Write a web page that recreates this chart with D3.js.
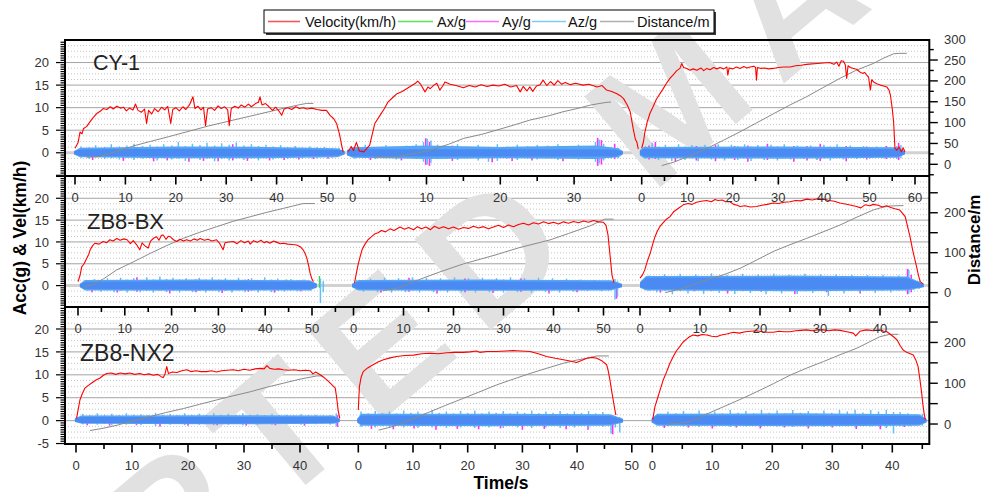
<!DOCTYPE html>
<html>
<head>
<meta charset="utf-8">
<script src="https://cdn.jsdelivr.net/npm/d3@7"></script>
<style>
  body { margin: 0; background: #fff; }
  svg { display: block; font-family: "Liberation Sans", Arial, sans-serif; }
</style>
</head>
<body>
<svg id="chart" width="986" height="492"></svg>
<script>
// ---------------- data ----------------
const panelNames = ['CY-1', 'ZB8-BX', 'ZB8-NX2'];
const seriesNames = ['Velocity(km/h)', 'Ax/g', 'Ay/g', 'Az/g', 'Distance/m'];

const leftTickLabels = [[0, 5, 10, 15, 20], [0, 5, 10, 15, 20], [-5, 0, 5, 10, 15, 20]];
const rightTickLabels = [[0, 50, 100, 150, 200, 250, 300], [0, 100, 200], [0, 100, 200]];

// velocity [t (s), km/h], one array per run
const cy1Velocity = [
  [[0,1.0],[0.6,2.2],[1,4.6],[1.4,4.2],[1.7,5.4],[2.3,5.8],[3,6.9],[3.6,7.8],[4.3,8.7],[5,9.2],[5.6,9.8],[6.3,9.6],[7,10.2],[7.6,9.7],[8.3,10.3],[9,9.9],[9.6,10.1],[10.2,9.3],[10.8,9.9],[11.5,9.5],[12,10.8],[12.5,9.4],[13.2,9.0],[13.8,9.7],[14.2,6.5],[14.6,9.4],[15.2,8.6],[15.8,9.8],[16.5,9.1],[17.2,10.1],[17.8,9.5],[18.4,10.3],[19,6.5],[19.4,9.6],[20,10.0],[20.7,9.3],[21.4,10.2],[22,9.6],[22.7,10.6],[23.4,12.4],[23.8,9.8],[24.4,10.3],[25,9.5],[25.5,10.1],[25.9,6.0],[26.3,9.7],[27,10.0],[27.7,9.4],[28.4,10.4],[29,9.8],[29.7,10.2],[30.3,9.5],[30.6,6.0],[31,9.8],[31.7,10.3],[32.4,9.9],[33,10.6],[33.7,10.1],[34.4,10.8],[35,10.2],[35.8,10.9],[36.4,11.2],[36.7,12.4],[37.1,10.6],[37.8,10.9],[38.5,10.2],[39.2,9.4],[39.8,10.1],[40.5,9.2],[41,8.3],[41.5,9.7],[42.2,10.0],[43,9.6],[43.8,10.2],[44.5,9.8],[45.3,10.0],[46,9.7],[47,9.9],[48,9.6],[49,9.4],[49.9,9.4],[50.6,8.3],[51.3,7.6],[51.9,6.5],[52.5,4.0],[52.9,1.7],[53.2,0.2]],
  [[-0.6,0.3],[-0.2,1.4],[0.1,0.5],[0.5,2.3],[0.9,0.4],[1.5,0.2],[2.3,1.7],[3.0,6.5],[3.7,8.3],[4.3,9.8],[4.8,11.3],[5.4,12.2],[6.0,13.1],[6.7,13.6],[7.3,14.2],[8.0,14.9],[8.5,15.4],[8.8,15.9],[9.2,15.2],[9.8,13.5],[10.2,14.6],[10.5,14.2],[11.0,15.0],[11.4,15.4],[11.8,13.9],[12.2,14.8],[12.5,15.7],[13.2,15.2],[14,14.9],[15,14.4],[15.8,14.9],[16.6,14.6],[17.4,15.1],[18.2,14.7],[19,15.0],[19.8,14.8],[20.6,15.2],[21.4,14.6],[22.2,14.9],[22.7,13.5],[23.1,14.7],[23.6,13.7],[24.0,14.6],[24.4,13.6],[24.9,14.8],[25.4,15.1],[25.8,16.1],[26.3,14.9],[26.8,15.8],[27.3,15.0],[27.8,16.0],[28.3,15.2],[28.8,15.6],[29.5,15.1],[30.2,15.4],[31.2,15.0],[32,15.2],[33.1,14.6],[33.8,14.9],[34.4,13.9],[35.1,13.6],[35.8,13.1],[36.3,12.6],[36.7,12.0],[37.2,10.6],[37.6,9.1],[38.0,5.4],[38.3,3.0],[38.5,2.4],[38.7,0.8]],
  [[0,1.0],[0.4,2.5],[0.7,4.6],[1.2,6.8],[1.8,8.7],[2.5,10.2],[3.2,11.8],[4.0,13.1],[4.6,14.0],[5.3,15.2],[6.2,16.5],[7,17.4],[7.7,18.2],[8.4,18.7],[8.8,19.8],[9.2,18.9],[9.9,18.7],[10.6,18.3],[11.3,18.6],[12.1,18.3],[13,18.8],[13.6,18.2],[14.3,18.7],[15,18.4],[15.8,18.9],[16.5,18.6],[17.2,18.9],[18,18.6],[18.7,19.0],[18.9,17.2],[19.2,18.8],[20,18.6],[20.8,19.0],[21.6,18.7],[22.4,19.1],[23.1,18.8],[23.8,19.0],[24.6,19.2],[25.0,18.9],[25.2,16.1],[25.4,18.9],[26.2,18.7],[27,18.8],[27.8,18.6],[28.9,18.7],[30,18.9],[31.2,19.0],[32.6,19.0],[33.8,19.3],[35,19.4],[36.2,19.6],[37.4,19.7],[38.6,19.8],[39.9,19.9],[41.2,20.0],[42.2,19.6],[42.8,20.1],[43.3,19.2],[43.8,20.4],[44.3,20.3],[44.7,19.5],[45.0,16.5],[45.3,19.3],[45.8,18.9],[46.5,18.7],[47.2,18.5],[47.9,17.9],[48.5,17.6],[49.0,17.8],[49.4,17.2],[49.8,16.8],[50.2,13.9],[50.5,16.2],[50.9,15.7],[51.6,15.3],[52.4,15.0],[53.1,14.8],[53.8,14.6],[54.3,13.9],[54.6,12.8],[55.0,9.8],[55.3,6.9],[55.6,1.0],[56,0.6],[56.5,1.3],[57,0.2],[57.4,1.1],[57.8,0.2]]
];
const zb8bxVelocity = [
  [[0,0.9],[0.4,2.2],[0.8,4.3],[1.3,5.0],[1.9,6.3],[2.3,7.2],[2.6,8.2],[3.1,9.1],[3.6,9.7],[4.5,9.5],[5.4,10.1],[6.1,9.8],[6.8,10.5],[7.5,10.2],[8.3,10.8],[9.0,10.4],[9.8,10.7],[10.5,10.5],[11.2,9.6],[11.8,10.3],[12.5,9.4],[13.2,8.2],[13.7,9.8],[14.3,9.1],[15,8.6],[15.5,10.2],[16.2,10.9],[16.8,11.2],[17.3,10.4],[17.8,11.5],[18.2,11.6],[18.8,10.6],[19.3,11.3],[19.7,11.2],[20.4,10.5],[21.1,10.1],[21.8,10.6],[22.5,10.2],[23.2,10.5],[24,10.2],[24.8,10.7],[25.5,10.4],[26.1,10.8],[27,10.4],[27.8,10.6],[28.6,10.2],[29.6,10.5],[30.3,9.6],[31,8.2],[31.4,9.8],[32.2,10.0],[33.2,10.1],[34,9.6],[34.8,10.3],[35.6,9.8],[36.4,10.2],[36.8,9.5],[37.5,10.3],[38.3,9.9],[39.1,10.4],[39.8,9.8],[40.3,10.1],[41,9.7],[41.8,10.2],[42.5,9.9],[43.2,9.6],[43.9,9.7],[44.8,9.5],[45.8,9.4],[46.7,9.3],[47.5,8.9],[48.1,8.2],[48.5,7.4],[48.9,6.3],[49.3,4.5],[49.6,2.8],[50.0,1.5],[50.3,0.9]],
  [[0.2,0.6],[0.5,2.4],[0.9,4.7],[1.3,6.5],[1.7,8.2],[2.3,9.5],[2.9,10.5],[3.5,11.1],[4.2,11.8],[4.9,12.1],[5.6,12.6],[6.4,12.3],[7.3,13.0],[8.1,12.6],[9.3,13.4],[10.2,12.9],[11,13.3],[12,12.8],[12.8,13.5],[13.6,13.0],[14.5,13.4],[15.4,12.8],[16.2,13.6],[17.1,13.1],[18,13.5],[19,13.0],[20,13.4],[21,12.9],[22,13.3],[23,13.1],[24,13.6],[25,13.2],[26,13.5],[27,13.0],[28,13.4],[29,13.8],[30,13.3],[31,13.9],[32,13.5],[33,14.0],[34,14.3],[35,13.9],[36,14.4],[37,14.1],[38,14.6],[39,14.2],[40,14.5],[41,14.1],[42,14.6],[43,14.3],[44,14.7],[45,14.4],[46,14.8],[47,14.5],[48,14.9],[49,14.6],[50,14.5],[50.5,13.8],[50.9,11.6],[51.3,7.0],[51.7,2.4],[52.1,0.6]],
  [[0,1.7],[0.4,2.4],[0.8,3.6],[1.2,5.5],[1.7,7.4],[2.1,9.4],[2.5,11.2],[2.9,12.5],[3.3,13.5],[3.8,14.3],[4.4,15.2],[5,15.8],[5.6,16.9],[6.3,17.6],[7.2,18.5],[8.0,18.8],[8.7,18.6],[9.4,19.1],[10.2,19.3],[11.1,19.5],[11.9,19.2],[12.5,19.7],[13,19.5],[13.7,19.6],[14.3,19.2],[15,19.2],[15.6,18.6],[16.2,18.4],[16.7,18.1],[17.5,18.3],[18.4,18.0],[19.4,18.1],[20.3,18.4],[21.2,18.6],[22.2,18.9],[23.1,18.8],[24,19.1],[25,19.2],[25.9,19.5],[26.8,19.4],[27.8,19.8],[28.7,19.6],[29.6,19.9],[30.6,19.8],[31.5,19.5],[32.4,19.3],[33.3,18.9],[34.2,18.7],[35.2,18.4],[36.1,18.1],[36.8,17.8],[37.5,18.5],[38.3,18.3],[38.9,18.6],[39.7,18.4],[40.4,18.0],[41.1,18.3],[41.8,17.9],[42.5,17.6],[43.3,17.3],[43.8,16.5],[44.2,15.8],[44.6,13.5],[45,11.2],[45.5,7.8],[46.1,4.3],[46.4,2.4],[46.7,0.9],[47.2,0.4]]
];
const zb8nx2Velocity = [
  [[0.1,0.5],[0.4,2.5],[0.7,4.5],[1.1,5.8],[1.6,7.1],[2.2,7.7],[2.8,8.2],[3.5,8.8],[4.3,9.3],[4.9,9.9],[5.5,10.3],[6.3,10.4],[7.1,10.1],[7.9,10.4],[8.8,10.2],[9.6,10.4],[10.5,10.1],[11.4,10.3],[12.2,10.0],[13,10.2],[13.8,9.9],[14.6,10.1],[15.2,9.6],[15.6,9.4],[15.9,10.2],[16.2,11.8],[16.5,10.3],[17.2,10.6],[18,10.5],[18.9,10.9],[19.8,11.1],[20.5,10.7],[21.4,10.9],[22.3,10.7],[23.3,10.7],[24.2,10.9],[25.1,10.6],[26,10.9],[27,11.0],[28.1,11.1],[29,10.9],[30,11.2],[31,11.0],[32,11.3],[32.9,11.4],[33.6,11.3],[34.1,12.0],[34.6,11.4],[35.4,11.2],[36.2,11.3],[37,11.1],[38,11.0],[39,11.1],[40,10.9],[41,11.0],[41.8,10.9],[42.3,10.2],[42.8,10.6],[43.6,10.0],[44.3,9.4],[44.9,8.8],[45.4,8.2],[45.9,7.6],[46.3,7.1],[46.6,4.5],[46.8,2.3],[47.1,0.5]],
  [[0,2.3],[0.1,5.0],[0.2,7.4],[0.5,9.4],[0.9,10.7],[1.7,11.5],[2.7,12.2],[3.6,12.8],[4.6,13.3],[5.8,13.7],[7,14.0],[8.5,14.2],[10.1,14.3],[11.6,14.6],[13.1,14.7],[14.6,14.6],[16.2,14.8],[17.7,14.9],[19.2,14.9],[20.4,15.0],[21.6,15.2],[22.2,14.9],[23.5,15.1],[25.3,15.1],[26.8,15.2],[28.3,15.3],[29.8,15.2],[31.4,15.1],[32.9,14.6],[34.4,14.0],[36,13.6],[37.5,13.3],[38.7,13.0],[39.9,12.7],[40.8,13.1],[41.8,13.6],[42.7,13.8],[43.6,13.6],[44.6,13.0],[45.4,12.2],[45.7,10.8],[46,8.9],[46.3,6.6],[46.6,4.5],[46.9,2.4],[47.1,1.2]],
  [[0.07,0.2],[0.45,3.1],[0.9,5.0],[1.3,6.7],[1.8,8.8],[2.4,10.7],[2.9,12.4],[3.5,14.0],[4.0,15.2],[4.6,16.2],[5.1,17.1],[5.7,17.8],[6.2,18.3],[6.8,18.7],[7.6,18.5],[8.3,18.8],[9.1,18.7],[9.9,18.4],[10.7,18.3],[11.5,18.7],[12.4,18.9],[13.5,19.3],[14.5,19.1],[15.5,19.4],[16.4,19.5],[17.4,19.6],[18.3,19.4],[19.2,19.3],[20.2,19.3],[21.1,19.5],[22,19.4],[23,19.4],[23.9,19.6],[24.8,19.7],[25.7,19.8],[26.6,19.6],[27.6,19.8],[28.5,19.8],[29.4,19.6],[30.4,19.8],[31.3,19.7],[32.4,19.4],[33.5,19.1],[33.9,18.5],[34.6,19.5],[35.7,19.8],[36.8,19.6],[38,19.8],[38.6,19.5],[39.1,19.4],[39.6,18.9],[40.2,18.3],[40.8,17.6],[41.3,16.4],[41.8,15.4],[42.4,14.9],[43,14.6],[43.5,14.3],[43.9,13.3],[44.3,11.8],[44.6,9.0],[44.9,6.0],[45.1,3.5],[45.3,1.6],[45.5,0.2]]
];

// distance [t (s), m]
const cy1Distance = [
  [[2.3,17],[5,19],[8,30],[11.6,44],[15,55],[18.5,66],[22.2,78],[26.5,92],[31.4,106],[36,119],[41.3,134],[44.6,143],[46,146],[47.3,146]],
  [[2.8,18],[6,19],[8,24],[10.5,34],[13,48],[15,62],[17.5,72],[19.5,82],[22,95],[24,106],[26.5,116],[28.5,126],[30.5,134],[32.2,142],[33.5,146],[34.6,149],[35,149]],
  [[4.4,-3],[7,5],[10,18],[14.3,38],[18,58],[21.6,78],[25,98],[28.9,121],[32.5,142],[36.2,162],[40,185],[43.5,206],[47,225],[50.9,242],[53,254],[55.3,265],[56.5,266],[58.2,266]]
];
const zb8bxDistance = [
  [[1.5,15],[3.5,22],[5.5,35],[8.3,57],[12,78],[15.4,98],[19,118],[22.5,136],[26,151],[29.6,165],[33,178],[36.8,190],[40,200],[43.9,211],[46,217],[48.1,223],[50.6,223]],
  [[5.9,5],[9,12],[13,32],[17.3,52],[22,72],[28.3,94],[33,112],[39.3,132],[43,148],[47.3,167],[49.5,180],[50.3,184],[52,184]],
  [[4.2,0],[7,10],[11.1,32],[14,45],[16.7,61],[19.5,82],[22.2,103],[25,120],[27.8,136],[30.5,152],[33.3,169],[36,188],[38.9,207],[40.5,214],[41.7,217],[43.9,218]]
];
const zb8nx2Distance = [
  [[2.5,-16],[5,-10],[7.3,-3],[10,7],[13.2,18],[16,28],[19.2,38],[22,48],[25.1,59],[28,69],[31.1,79],[34,90],[37,100],[40,110],[43,118],[44,118]],
  [[3.7,-15],[5.5,-9],[7,-3],[10,13],[13.1,30],[16,46],[19.2,63],[22,78],[25.3,96],[28.3,110],[31.4,124],[34.5,137],[37.5,149],[40,157],[42.4,163],[43.6,167],[45.8,167]],
  [[2.4,0],[4.5,2],[6.3,6],[9,24],[11.8,42],[14.6,60],[17.4,79],[20.2,99],[23,120],[25.7,137],[28.5,153],[31.3,170],[34.1,186],[36,200],[37.9,214],[39.6,220],[41,220]]
];

// acceleration (g): solid Az band [t, low, high], its darker centre, and single spikes [t, low, high]
const cy1AzBand = [
  [[-0.2,-0.4,0.4],[1,-1.0,1.1],[20,-1.2,1.4],[38,-1.2,1.3],[52,-1.0,1.0],[53.5,-0.4,0.4]],
  [[-0.8,-0.6,0.6],[0,-1.1,1.2],[10,-1.4,1.6],[20,-1.2,1.3],[33,-1.4,1.6],[36,-1.0,1.0],[36.6,-0.4,0.4]],
  [[-0.4,-0.6,0.6],[0.5,-1.2,1.3],[30,-1.3,1.4],[56,-1.1,1.2],[57.8,-0.4,0.4]]
];
const cy1AzCore = [
  [[-0.2,-0.3,0.3],[1,-0.7,0.7],[20,-0.8,0.9],[40,-0.8,0.8],[52.5,-0.6,0.6],[53.5,-0.3,0.3]],
  [[-0.8,-0.4,0.4],[0,-0.8,0.8],[20,-0.8,0.8],[35.5,-0.8,0.7],[36.6,-0.3,0.3]],
  [[-0.4,-0.4,0.4],[0.5,-0.8,0.9],[30,-0.9,0.9],[56.5,-0.8,0.8],[57.8,-0.3,0.3]]
];
const cy1AzSpikes = [
  [[1.2,-1.1,1.4],[2.8,-1.3,1.2],[4.1,-1.0,1.7],[5.9,-1.4,1.3],[7.2,-1.2,1.9],[8.8,-1.5,1.4],[10.3,-1.1,1.6],[11.7,-1.6,2.0],[13.4,-1.3,1.5],[14.9,-1.2,1.8],[16.3,-1.7,1.4],[17.6,-1.2,1.9],[19.2,-1.5,1.6],[20.5,-1.3,2.4],[21.9,-1.8,1.5],[23.3,-1.2,2.0],[24.8,-1.6,1.7],[26.2,-1.3,2.2],[27.7,-1.9,1.6],[29.1,-1.4,2.1],[30.6,-1.7,1.8],[32.0,-1.2,2.3],[33.5,-1.6,1.6],[35.0,-1.3,1.9],[36.4,-1.7,1.5],[37.9,-1.2,1.8],[39.3,-1.5,1.4],[40.8,-1.1,1.7],[42.2,-1.4,1.3],[43.7,-1.0,1.5],[45.1,-1.3,1.2],[46.6,-1.1,1.4],[48.0,-1.2,1.2],[49.5,-0.9,1.3],[51.0,-1.1,1.0],[52.4,-0.8,1.1]],
  [[0.3,-1.3,1.4],[1.7,-1.1,1.8],[3.1,-1.4,1.2],[4.5,-1.2,1.7],[5.9,-1.5,1.3],[7.3,-1.1,1.6],[8.6,-1.4,1.9],[9.6,-2.0,2.4],[10.1,-2.6,3.1],[10.6,-2.2,2.7],[11.5,-1.4,1.8],[12.8,-1.3,1.5],[14.2,-1.6,1.9],[15.6,-1.2,1.4],[17.0,-1.7,1.8],[18.4,-2.0,1.3],[19.6,-1.8,1.9],[20.9,-1.4,1.4],[22.3,-1.6,1.8],[23.7,-1.3,1.5],[25.0,-1.5,1.7],[26.4,-1.2,1.6],[27.8,-1.6,1.9],[29.2,-1.1,1.4],[30.6,-1.5,1.8],[31.9,-1.3,1.5],[32.9,-2.0,2.4],[33.4,-2.3,2.9],[34.0,-1.7,2.0],[35.0,-1.1,1.3],[36.0,-1.2,1.0]],
  [[0.8,-1.3,1.5],[2.3,-1.0,2.2],[3.7,-1.6,1.4],[5.2,-1.2,1.8],[6.6,-1.8,1.3],[8.1,-1.1,1.9],[9.5,-1.6,1.4],[11.0,-1.2,1.7],[12.4,-1.9,1.3],[13.9,-1.1,1.8],[15.3,-1.5,1.4],[16.8,-1.0,1.9],[18.2,-1.7,1.3],[19.7,-1.1,1.8],[21.1,-1.6,1.5],[22.6,-1.2,1.9],[24.0,-1.8,1.4],[25.5,-1.0,1.7],[26.9,-1.6,1.3],[28.4,-1.2,1.8],[29.8,-1.7,1.4],[31.3,-1.1,1.9],[32.7,-1.5,1.3],[34.2,-1.0,1.6],[35.6,-1.4,1.2],[37.1,-1.1,1.6],[38.5,-1.6,1.3],[40.0,-1.2,1.8],[41.4,-1.7,1.4],[42.9,-1.1,1.9],[44.3,-1.5,1.3],[45.8,-1.0,1.6],[47.2,-1.4,1.2],[48.7,-1.1,1.5],[50.1,-1.3,1.2],[51.6,-0.9,1.4],[53.0,-1.2,1.1],[54.5,-0.9,1.2],[56.0,-1.4,1.5],[56.9,-1.2,1.7]]
];
const cy1AySpikes = [
  [[3.5,-1.6,0.9],[9.6,-1.8,1.0],[15.6,-1.9,1.0],[18.3,-1.7,1.2],[22.6,-2.0,1.0],[25.5,-1.8,1.2],[28.4,-1.9,1.0],[31.3,-1.7,1.9],[34.2,-1.8,1.0],[38.6,-1.7,1.0],[41.5,-1.6,1.0],[44.4,-1.5,0.9],[47.3,-1.4,0.9],[50.2,-1.3,0.9]],
  [[2.4,-1.6,1.2],[6.6,-1.7,1.1],[9.9,-2.7,3.2],[10.4,-2.9,2.4],[13.5,-1.8,1.6],[18.9,-2.1,1.2],[21.6,-1.8,1.1],[24.3,-1.7,1.3],[28.5,-1.9,1.2],[33.2,-2.9,3.3],[33.7,-2.6,2.8],[35.5,-1.4,2.0]],
  [[1.6,-1.5,1.6],[3.0,-1.4,2.4],[7.4,-2.0,1.2],[12.0,-1.7,1.5],[16.2,-1.9,1.8],[20.4,-1.6,1.5],[23.3,-2.0,1.6],[27.6,-1.6,2.0],[33.4,-2.0,1.5],[36.3,-1.7,1.5],[39.2,-1.8,2.0],[44.9,-1.9,1.5],[49.4,-1.5,1.4],[53.7,-1.4,1.5],[56.4,-1.6,2.2]]
];
const cy1AxSpikes = [
  [[26.8,-1.0,0.9]],
  [[35.0,-1.2,0.7]],
  [[38.4,-1.5,0.6]]
];

const zb8bxAzBand = [
  [[0.4,-0.4,0.4],[1.5,-1.1,1.3],[25,-1.2,1.4],[49.5,-1.1,1.2],[51,-0.5,0.5]],
  [[-0.3,-0.4,0.4],[1,-1.1,1.3],[27,-1.2,1.4],[51.5,-1.1,1.2],[53.7,-0.4,0.4]],
  [[0,-0.5,0.8],[1,-1.1,2.2],[25,-1.3,2.3],[44.5,-1.1,2.1],[47.3,-0.4,0.4]]
];
const zb8bxAzCore = [
  [[0.4,-0.3,0.3],[1.5,-0.8,0.9],[25,-0.9,1.0],[49.5,-0.8,0.9],[51,-0.4,0.4]],
  [[-0.3,-0.3,0.3],[1,-0.8,0.9],[27,-0.9,1.0],[51.5,-0.8,0.8],[53.7,-0.3,0.3]],
  [[0,-0.4,0.6],[1,-0.8,1.8],[25,-0.9,1.9],[44.5,-0.8,1.7],[47.3,-0.3,0.3]]
];
const zb8bxAzSpikes = [
  [[2.1,-1.2,1.3],[3.5,-1.0,1.5],[4.9,-1.4,1.2],[6.3,-1.1,1.7],[7.7,-1.5,1.3],[9.1,-1.2,1.8],[10.5,-1.6,1.4],[11.9,-1.1,1.7],[13.3,-1.5,1.3],[14.7,-1.2,1.9],[16.1,-1.6,1.4],[17.5,-1.1,2.1],[18.9,-1.5,1.5],[20.3,-1.2,1.8],[21.7,-1.6,1.4],[23.1,-1.1,1.7],[24.5,-1.5,1.3],[25.9,-1.2,1.8],[27.3,-1.6,1.4],[28.7,-1.1,1.9],[30.1,-1.5,1.4],[31.5,-1.2,1.7],[32.9,-1.6,1.3],[34.3,-1.1,1.8],[35.7,-1.5,1.4],[37.1,-1.2,1.7],[38.5,-1.6,1.3],[39.9,-1.1,1.9],[41.3,-1.5,1.4],[42.7,-1.2,1.6],[44.1,-1.4,1.3],[45.5,-1.1,1.5],[46.9,-1.3,1.2],[48.3,-1.0,1.4],[49.7,-1.2,1.0],[51.8,-4.0,1.6],[52.4,-1.5,1.0]],
  [[0.6,-1.0,1.3],[2.0,-1.4,1.1],[3.4,-1.1,1.6],[4.8,-1.5,1.2],[6.2,-1.1,1.8],[7.6,-1.6,1.3],[9.0,-1.0,1.7],[10.4,-1.5,1.2],[11.8,-1.1,1.9],[13.2,-1.6,1.3],[14.6,-1.0,1.8],[16.0,-1.5,1.2],[17.4,-1.1,1.7],[18.8,-1.6,1.3],[20.2,-1.0,1.9],[21.6,-1.5,1.2],[23.0,-1.1,1.7],[24.4,-1.6,1.3],[25.8,-1.0,1.8],[27.2,-1.5,1.2],[28.6,-1.1,1.7],[30.0,-1.6,1.4],[31.4,-1.0,1.9],[32.8,-1.5,1.2],[34.2,-1.1,1.7],[35.6,-1.6,1.3],[37.0,-1.0,1.8],[38.4,-1.5,1.2],[39.8,-1.1,1.7],[41.2,-1.6,1.3],[42.6,-1.0,1.6],[44.0,-1.4,1.1],[45.4,-0.9,1.4],[46.8,-1.2,1.0],[48.2,-1.0,1.3],[49.6,-1.3,1.0],[51.0,-1.1,1.2],[52.3,-3.2,1.5],[52.8,-2.5,1.0]],
  [[1.5,-1.2,2.3],[2.8,-1.6,2.0],[4.1,-1.2,2.6],[5.4,-2.0,2.2],[6.7,-1.3,2.7],[8.0,-1.8,2.2],[9.3,-1.2,2.6],[10.6,-1.9,2.1],[11.9,-1.3,2.8],[13.2,-1.7,2.2],[14.5,-1.2,2.5],[15.8,-1.9,2.1],[17.1,-1.3,2.7],[18.4,-1.7,2.2],[19.7,-1.2,2.6],[21.0,-2.0,2.1],[22.3,-1.3,2.8],[23.6,-1.8,2.2],[24.9,-1.2,2.5],[26.2,-1.9,2.1],[27.5,-1.3,2.7],[28.8,-1.7,2.2],[30.1,-1.2,2.6],[31.4,-2.4,2.1],[32.7,-1.3,2.6],[34.0,-1.8,2.1],[35.3,-1.2,2.5],[36.6,-1.6,2.0],[37.9,-1.1,2.4],[39.2,-1.7,2.1],[40.5,-1.2,2.5],[41.8,-1.6,2.0],[43.1,-1.1,2.3],[44.8,-1.8,3.6],[45.6,-1.0,1.2],[46.5,-0.8,1.0]]
];
const zb8bxAySpikes = [
  [[3.0,-1.5,1.0],[8.4,-1.6,1.3],[12.6,-1.4,1.9],[19.6,-1.8,1.2],[25.2,-1.5,1.4],[30.8,-1.7,1.3],[36.4,-1.4,1.5],[42.0,-1.6,1.3],[47.6,-1.3,1.2]],
  [[5.5,-1.6,1.3],[11.1,-1.4,1.8],[16.7,-1.8,1.2],[22.3,-1.5,1.6],[27.9,-1.7,1.3],[33.5,-1.4,1.6],[39.1,-1.8,1.2],[44.7,-1.5,1.3],[52.6,-3.0,0.8]],
  [[3.4,-1.6,1.6],[9.0,-1.3,2.2],[14.6,-1.8,1.7],[20.2,-1.4,2.1],[25.8,-1.9,1.6],[31.1,-1.5,2.1],[36.7,-1.8,1.7],[44.6,-2.0,3.8],[45.2,-1.5,2.5]]
];
const zb8bxAxSpikes = [
  [[44.5,-0.6,1.4],[51.6,-0.5,2.2]],
  [[26.0,-0.9,0.9]],
  [[23.0,-1.1,0.9],[44.0,-0.7,0.8]]
];

const zb8nx2AzBand = [
  [[-0.2,-0.3,0.6],[1,-0.7,1.1],[24,-0.8,1.2],[46,-0.7,1.1],[47.1,-0.3,0.4]],
  [[-0.2,-0.4,0.4],[0.5,-1.1,1.5],[25,-1.2,1.5],[46,-1.1,1.4],[48.4,-0.4,0.4]],
  [[-0.1,-0.4,0.5],[0.8,-1.1,1.5],[24,-1.2,1.6],[44.5,-1.1,1.4],[45.7,-0.4,0.4]]
];
const zb8nx2AzCore = [
  [[-0.2,-0.2,0.4],[1,-0.5,0.8],[24,-0.6,0.8],[46,-0.5,0.8],[47.1,-0.2,0.3]],
  [[-0.2,-0.3,0.3],[0.5,-0.8,1.1],[25,-0.9,1.1],[46,-0.8,1.0],[48.4,-0.3,0.3]],
  [[-0.1,-0.3,0.4],[0.8,-0.8,1.1],[24,-0.9,1.1],[44.5,-0.8,1.0],[45.7,-0.3,0.3]]
];
const zb8nx2AzSpikes = [
  [[1.2,-0.8,1.5],[2.5,-0.6,1.2],[3.8,-0.9,1.6],[5.1,-0.7,1.3],[6.4,-1.0,1.5],[7.7,-0.7,1.2],[9.0,-0.9,1.6],[10.3,-0.6,1.3],[11.6,-1.0,1.4],[12.9,-0.7,1.2],[14.2,-1.2,1.7],[15.5,-0.7,1.3],[16.8,-0.9,1.5],[18.1,-0.6,1.2],[19.4,-1.0,1.6],[20.7,-0.7,1.3],[22.0,-0.9,1.5],[23.3,-0.6,1.2],[24.6,-1.0,1.6],[25.9,-0.7,1.3],[27.2,-0.9,1.5],[28.5,-0.6,1.2],[29.8,-1.0,1.6],[31.1,-0.7,1.3],[32.4,-0.9,1.4],[33.7,-0.6,1.2],[35.0,-0.9,1.5],[36.3,-0.6,1.2],[37.6,-0.8,1.3],[38.9,-0.6,1.1],[40.2,-0.9,1.4],[41.5,-0.6,1.2],[42.8,-0.8,1.3],[44.1,-0.6,1.1],[45.4,-0.9,1.2],[46.5,-1.2,1.6]],
  [[0.5,-1.4,2.0],[1.8,-1.0,1.6],[3.1,-1.5,2.1],[4.4,-1.1,1.7],[5.7,-1.6,2.0],[7.0,-1.0,1.6],[8.3,-1.5,2.2],[9.6,-1.1,1.7],[10.9,-1.6,2.0],[12.2,-1.0,1.6],[13.5,-1.5,2.3],[14.8,-1.1,1.7],[16.1,-1.6,2.0],[17.4,-1.0,1.6],[18.7,-1.5,2.1],[20.0,-1.1,1.7],[21.3,-1.6,2.2],[22.6,-1.0,1.6],[23.9,-1.5,2.0],[25.2,-1.1,1.7],[26.5,-1.6,2.1],[27.8,-1.0,1.6],[29.1,-1.5,2.0],[30.4,-1.1,1.7],[31.7,-1.6,2.2],[33.0,-1.0,1.6],[34.3,-1.5,2.0],[35.6,-1.1,1.7],[36.9,-1.6,2.1],[38.2,-1.0,1.6],[39.5,-1.5,2.0],[40.8,-1.1,1.7],[42.1,-1.6,2.1],[43.4,-1.0,1.6],[44.7,-1.4,1.9],[46.2,-2.8,1.3],[47.0,-1.5,1.0],[47.8,-2.6,0.8]],
  [[1.3,-0.9,1.5],[2.6,-1.2,2.0],[3.9,-0.9,1.6],[5.2,-1.3,2.1],[6.5,-1.0,1.5],[7.8,-1.4,2.2],[9.1,-1.0,1.6],[10.4,-1.3,2.0],[11.7,-0.9,1.6],[13.0,-1.4,2.3],[14.3,-1.0,1.7],[15.6,-1.3,2.1],[16.9,-0.9,1.6],[18.2,-1.4,2.3],[19.5,-1.0,1.7],[20.8,-1.3,2.2],[22.1,-0.9,1.6],[23.4,-1.4,2.3],[24.7,-1.0,1.7],[26.0,-1.3,2.1],[27.3,-0.9,1.6],[28.6,-1.4,2.2],[29.9,-1.0,1.7],[31.2,-1.3,2.3],[32.5,-1.2,2.0],[33.8,-1.5,2.4],[35.1,-1.0,1.8],[36.4,-1.3,2.3],[37.7,-1.2,2.0],[39.0,-1.6,2.4],[40.2,-2.8,1.9],[41.3,-1.2,1.9],[42.6,-1.0,1.6],[43.9,-0.9,1.3],[45.0,-1.1,1.5]]
];
const zb8nx2AySpikes = [
  [[2.0,-1.0,0.8],[6.0,-1.1,0.8],[10.8,-1.0,0.9],[15.0,-1.3,0.9],[20.0,-1.1,0.8],[25.2,-1.0,0.8],[30.4,-1.1,0.9],[35.6,-1.0,0.8],[40.8,-1.1,0.9],[46.7,-1.4,1.2]],
  [[2.4,-1.8,1.4],[6.4,-1.9,1.2],[10.2,-1.7,1.4],[14.2,-2.0,1.3],[18.1,-1.8,1.2],[22.0,-1.9,1.4],[26.0,-1.7,1.3],[30.0,-2.0,1.4],[34.0,-1.8,1.3],[38.0,-1.9,1.2],[42.0,-2.0,1.4],[46.5,-3.0,1.2]],
  [[2.0,-1.6,1.2],[6.0,-1.5,1.2],[10.0,-1.7,1.3],[14.0,-1.5,1.2],[18.0,-1.7,1.3],[22.0,-1.5,1.2],[26.0,-1.7,1.3],[30.0,-1.5,1.4],[34.0,-1.8,1.3],[38.0,-1.9,1.4],[42.0,-1.4,1.1]]
];
const zb8nx2AxSpikes = [
  [[46.5,-0.9,0.5]],
  [[46.0,-0.9,0.6]],
  [[43.0,-1.2,0.6]]
];

// ---------------- layout ----------------
const W = 986, H = 492;
const plotLeft = 65, plotRight = 929.3;
const panelTop = [40, 176, 307], panelBottom = [176, 307, 444];
const layerEdges = [65, 347, 639, 929.3];
// pixel of t = 0 and pixels per second for each run's own time axis
const layerZero = [[75, 352.7, 641.7], [78, 353.5, 640], [76, 358.3, 652.3]];
const layerRate = [[5.04, 7.38, 4.555], [4.68, 5.0, 6.0], [5.6, 5.47, 6.0]];
const leftDomains = [[-5.15, 25], [-4.9, 25.1], [-5.1, 24.8]];
const rightDomains = [[-28, 298], [-36, 292], [-49, 287]];
const nameSpots = [[93, 70, 21.5], [87, 229, 22], [80, 361, 23]];

const colors = {vel: '#ff0000', ax: '#2fd82f', ay: '#ff30ff', az: '#62c0f8', azBand: '#56a6f6', azCore: '#4a8af2', dist: '#8a8a8a'};

const panels = [
  {vel: cy1Velocity, dist: cy1Distance, band: cy1AzBand, core: cy1AzCore, az: cy1AzSpikes, ay: cy1AySpikes, ax: cy1AxSpikes, zeroStyle: 'light'},
  {vel: zb8bxVelocity, dist: zb8bxDistance, band: zb8bxAzBand, core: zb8bxAzCore, az: zb8bxAzSpikes, ay: zb8bxAySpikes, ax: zb8bxAxSpikes, zeroStyle: 'light'},
  {vel: zb8nx2Velocity, dist: zb8nx2Distance, band: zb8nx2AzBand, core: zb8nx2AzCore, az: zb8nx2AzSpikes, ay: zb8nx2AySpikes, ax: zb8nx2AxSpikes, zeroStyle: 'plain'}
];

const svg = d3.select('#chart');
svg.append('rect').attr('width', W).attr('height', H).attr('fill', '#fff');

const gridLayer = svg.append('g');
const wmLayer = svg.append('g');
const dataLayer = svg.append('g');
const axisLayer = svg.append('g');
const defs = svg.append('defs');

// watermark
wmLayer.append('text')
  .attr('transform', 'translate(-282,978) rotate(-40)')
  .attr('font-size', 172)
  .attr('font-weight', 'bold')
  .attr('letter-spacing', 25)
  .attr('fill', '#e1e1e1')
  .text('ACCEPTED MANUSCRIPT');

panels.forEach((p, pi) => {
  const top = panelTop[pi], bot = panelBottom[pi];
  const yL = d3.scaleLinear().domain(leftDomains[pi]).range([bot, top]);
  const yR = d3.scaleLinear().domain(rightDomains[pi]).range([bot, top]);
  const dom = leftDomains[pi];

  // dotted minor grid every 1.25
  const minorGrid = d3.range(Math.ceil(dom[0] / 1.25) * 1.25, dom[1], 1.25)
    .filter(v => Math.abs(v / 5 - Math.round(v / 5)) > 1e-6);
  gridLayer.selectAll(null).data(minorGrid).join('line')
    .attr('x1', plotLeft).attr('x2', plotRight)
    .attr('y1', d => yL(d)).attr('y2', d => yL(d))
    .attr('stroke', '#b9b9b9').attr('stroke-width', 0.8).attr('stroke-dasharray', '1,2');

  const majorGrid = d3.range(Math.ceil(dom[0] / 5) * 5, dom[1], 5).filter(v => v > dom[0] + 0.5);
  gridLayer.selectAll(null).data(majorGrid).join('line')
    .attr('x1', plotLeft).attr('x2', plotRight)
    .attr('y1', d => yL(d)).attr('y2', d => yL(d))
    .attr('stroke', d => d === 0 && p.zeroStyle === 'light' ? '#d2d2d2' : '#a3a3a3')
    .attr('stroke-width', d => d === 0 && p.zeroStyle === 'light' ? 3 : 1);

  // runs
  for (let li = 0; li < 3; li++) {
    const x0 = layerEdges[li], x1 = layerEdges[li + 1];
    const z = layerZero[pi][li], r = layerRate[pi][li];
    const x = d3.scaleLinear().domain([(x0 - z) / r, (x1 - z) / r]).range([x0, x1]);
    const clipId = `clip-${pi}-${li}`;
    defs.append('clipPath').attr('id', clipId).append('rect')
      .attr('x', x0).attr('y', top).attr('width', x1 - x0).attr('height', bot - top);
    const g = dataLayer.append('g').attr('clip-path', `url(#${clipId})`);

    const spikes = (arr, color, w) => g.append('g').selectAll('line').data(arr).join('line')
      .attr('x1', d => x(d[0])).attr('x2', d => x(d[0]))
      .attr('y1', d => yL(d[1])).attr('y2', d => yL(d[2]))
      .attr('stroke', color).attr('stroke-width', w);
    const band = d3.area().x(d => x(d[0])).y0(d => yL(d[1])).y1(d => yL(d[2]));

    spikes(p.ax[li], colors.ax, 1.4);
    spikes(p.ay[li], colors.ay, 1.6);
    spikes(p.az[li], colors.az, 1.5);
    g.append('path').datum(p.band[li]).attr('d', band).attr('fill', colors.azBand);
    g.append('path').datum(p.core[li]).attr('d', band).attr('fill', colors.azCore);

    g.append('path').datum(p.dist[li])
      .attr('d', d3.line().x(d => x(d[0])).y(d => yR(d[1])))
      .attr('fill', 'none').attr('stroke', colors.dist).attr('stroke-width', 1);

    g.append('path').datum(p.vel[li])
      .attr('d', d3.line().x(d => x(d[0])).y(d => yL(d[1])))
      .attr('fill', 'none').attr('stroke', colors.vel).attr('stroke-width', 1.1)
      .attr('stroke-linejoin', 'round');

    // time ticks along the bottom of this panel
    const tDom = x.domain();
    const ticks = d3.range(0, tDom[1] + 1e-9, 5).filter(t => t >= tDom[0] && x(t) <= plotRight - 2);
    axisLayer.selectAll(null).data(ticks).join('line')
      .attr('x1', d => x(d)).attr('x2', d => x(d))
      .attr('y1', bot).attr('y2', d => bot + (d % 10 === 0 ? 8.5 : 5))
      .attr('stroke', '#000').attr('stroke-width', 1.6);
    axisLayer.selectAll(null).data(ticks.filter(t => t % 10 === 0)).join('text')
      .attr('x', d => x(d)).attr('y', bot + 26)
      .attr('text-anchor', 'middle').attr('font-size', 13).attr('fill', '#333')
      .text(d => d);
  }

  // left axis ticks
  const leftMinor = d3.range(Math.ceil(dom[0] * 2) / 2, dom[1], 0.5);
  axisLayer.selectAll(null).data(leftMinor).join('line')
    .attr('x1', plotLeft).attr('x2', d => plotLeft - (d % 5 === 0 ? 9 : 4.5))
    .attr('y1', d => yL(d)).attr('y2', d => yL(d))
    .attr('stroke', '#000').attr('stroke-width', 1.2);
  axisLayer.selectAll(null).data(leftTickLabels[pi]).join('text')
    .attr('x', 49).attr('y', d => yL(d) + 4.6)
    .attr('text-anchor', 'end').attr('font-size', 13).attr('fill', '#333')
    .text(d => d);

  // right axis ticks
  const rDom = rightDomains[pi];
  const rStep = pi === 0 ? 25 : 50;
  const rightTicks = d3.range(Math.ceil(rDom[0] / rStep) * rStep, rDom[1], rStep);
  axisLayer.selectAll(null).data(rightTicks).join('line')
    .attr('x1', plotRight).attr('x2', d => plotRight + (pi === 0 && d % 50 !== 0 ? 4.5 : 8.5))
    .attr('y1', d => yR(d)).attr('y2', d => yR(d))
    .attr('stroke', '#000').attr('stroke-width', 1.4);
  axisLayer.selectAll(null).data(rightTickLabels[pi]).join('text')
    .attr('x', 944).attr('y', d => yR(d) + 4.6)
    .attr('text-anchor', 'start').attr('font-size', 13).attr('fill', '#333')
    .text(d => d);

  // panel name
  axisLayer.append('text')
    .attr('x', nameSpots[pi][0]).attr('y', nameSpots[pi][1])
    .attr('font-size', nameSpots[pi][2]).attr('fill', '#222')
    .text(panelNames[pi]);
});

// frame and separators
const frame = axisLayer.append('g').attr('stroke', '#000').attr('stroke-width', 2).attr('fill', 'none');
frame.append('rect').attr('x', plotLeft).attr('y', panelTop[0])
  .attr('width', plotRight - plotLeft).attr('height', panelBottom[2] - panelTop[0]);
frame.selectAll(null).data([panelBottom[0], panelBottom[1]]).join('line')
  .attr('x1', plotLeft).attr('x2', plotRight).attr('y1', d => d).attr('y2', d => d);

// axis titles
axisLayer.append('text')
  .attr('transform', 'translate(26,238) rotate(-90)')
  .attr('text-anchor', 'middle').attr('font-size', 17.5).attr('font-weight', 'bold')
  .text('Acc(g) & Vel(km/h)');
axisLayer.append('text')
  .attr('transform', 'translate(980,240) rotate(-90)')
  .attr('text-anchor', 'middle').attr('font-size', 17).attr('font-weight', 'bold')
  .text('Distance/m');
axisLayer.append('text')
  .attr('x', 501).attr('y', 489)
  .attr('text-anchor', 'middle').attr('font-size', 17.5).attr('font-weight', 'bold')
  .text('Time/s');

// legend
const legend = svg.append('g');
legend.append('rect').attr('x', 266).attr('y', 12).attr('width', 450).attr('height', 23).attr('fill', '#3a3a3a');
legend.append('rect').attr('x', 264).attr('y', 10).attr('width', 450).attr('height', 23)
  .attr('fill', '#fff').attr('stroke', '#000').attr('stroke-width', 1);
const legendColors = ['#f25a5a', '#5ee05e', '#ff6bff', '#7fcbf7', '#b0b0b0'];
const legendLine = [[268, 300], [398, 433], [466, 499], [532, 566], [600, 634]];
const legendText = [305, 437, 502, 568, 637];
seriesNames.forEach((name, i) => {
  legend.append('line')
    .attr('x1', legendLine[i][0]).attr('x2', legendLine[i][1]).attr('y1', 21.5).attr('y2', 21.5)
    .attr('stroke', legendColors[i]).attr('stroke-width', 1.6);
  legend.append('text')
    .attr('x', legendText[i]).attr('y', 26.5)
    .attr('font-size', 14.5).attr('fill', '#111')
    .text(name);
});
</script>
</body>
</html>
